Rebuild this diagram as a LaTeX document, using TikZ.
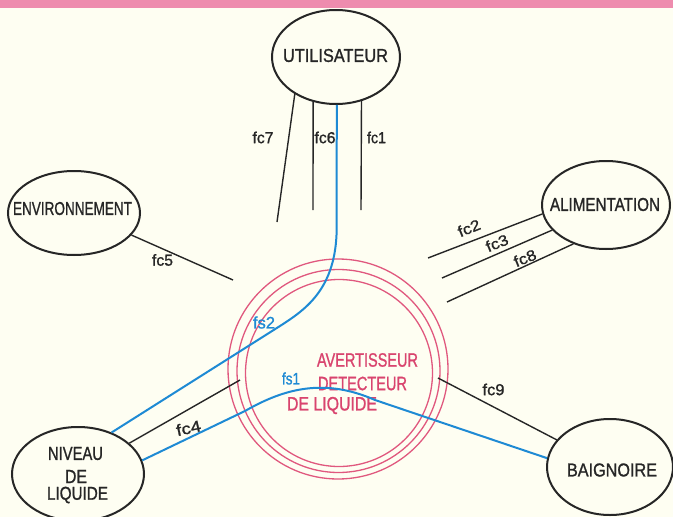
\documentclass[tikz,border=0pt]{standalone}
\usepackage{fontspec}
\setmainfont{Liberation Sans}[FakeBold=1.2]
\usetikzlibrary{shapes.geometric}
\definecolor{bgc}{HTML}{FEFEF2}
\definecolor{band}{HTML}{EE8CAE}
\definecolor{ring}{HTML}{E0587E}
\definecolor{ptext}{HTML}{D9446E}
\definecolor{fsblue}{HTML}{1E8AD4}
\definecolor{ink}{HTML}{262626}
\newcommand{\fitbox}[3]{\resizebox{#1pt}{#2pt}{#3}}
\begin{document}
\begin{tikzpicture}[x=1pt,y=-1pt,
  ell/.style={ellipse, draw=ink, line width=2pt, inner sep=0pt},
  lbl/.style={inner sep=0pt, text=ink},
  plbl/.style={inner sep=0pt, text=ptext},
  blbl/.style={inner sep=0pt, text=fsblue},
  conn/.style={draw=ink, line width=1.4pt},
  fsline/.style={draw=fsblue, line width=2pt},
  ringc/.style={draw=ring, line width=1.3pt},
]
\useasboundingbox (0,0) rectangle (673,517);
\fill[bgc] (0,0) rectangle (673,517);
\fill[band] (0,0) rectangle (673,8);

% central rings
\draw[ringc] (338,369) circle[radius=110];
\draw[ringc] (338.5,371) circle[radius=101.5];
\draw[ringc] (339,373) circle[radius=93.5];

% ellipses
\node[ell, minimum width=128pt, minimum height=94pt] (u) at (336,57) {};
\node[ell, minimum width=132pt, minimum height=84pt] (env) at (74,213) {};
\node[ell, minimum width=128pt, minimum height=88pt] (ali) at (606,205) {};
\node[ell, minimum width=132pt, minimum height=94pt] (niv) at (78,474) {};
\node[ell, minimum width=126pt, minimum height=96pt] (bai) at (610,467) {};

% ellipse texts
\node[lbl] (tu) at (335.5,55.5) {\fitbox{105}{13}{UTILISATEUR}};
\node[lbl] (tenv) at (72.5,208.5) {\fitbox{119}{13}{ENVIRONNEMENT}};
\node[lbl] (tali) at (605,204.5) {\fitbox{110}{13}{ALIMENTATION}};
\node[lbl] (tn1) at (75.5,453.5) {\fitbox{55}{13}{NIVEAU}};
\node[lbl] (tn2) at (76,476.5) {\fitbox{22}{13}{DE}};
\node[lbl] (tn3) at (77.5,495) {\fitbox{61}{13}{LIQUIDE}};
\node[lbl] (tbai) at (612,470) {\fitbox{90}{13}{BAIGNOIRE}};

% central texts
\node[plbl] (t1) at (367.5,360) {\fitbox{101}{13.5}{AVERTISSEUR}};
\node[plbl] (t2) at (362.5,383.5) {\fitbox{89}{13.5}{DETECTEUR}};
\node[plbl] (t3) at (332,405.5) {\fitbox{90}{13.5}{DE LIQUIDE}};

% free ends
\coordinate (e7) at (277,222);
\coordinate (e6) at (313,210);
\coordinate (e1) at (361,210);
\coordinate (e5) at (233,280);
\coordinate (e2) at (428,258);
\coordinate (e3) at (442,278);
\coordinate (e8) at (447,302);
\coordinate (e4) at (240,380);
\coordinate (e9) at (438,378);

% black connectors
\draw[conn] (u.-138.6) -- (e7);
\draw[conn] (u.-117.6) -- (e6);
\draw[conn] (u.-60) -- (e1);
\draw[conn] (env.-21.4) -- (e5);
\draw[conn] (ali.-172.6) -- (e2);
\draw[conn] (ali.-155.6) -- (e3);
\draw[conn] (ali.-130.2) -- (e8);
\draw[conn] (niv.31.6) -- (e4);
\draw[conn] (bai.153) -- (e9);

% blue connectors
\coordinate (b1) at (336.5,235);
\coordinate (b2) at (280,326);
\draw[fsline] (u.-89) -- (b1) .. controls (334,290) and (305,310) .. (b2) -- (niv.51);
\coordinate (c1) at (245,411);
\coordinate (c2) at (375,400);
\draw[fsline] (niv.12) -- (c1) .. controls (285,388) and (325,378) .. (c2) -- (bai.172);

% fc labels
\node[lbl] (l7) at (263,137.5) {\fitbox{21}{11.5}{fc7}};
\node[lbl] (l6) at (325,137.5) {\fitbox{21}{11.5}{fc6}};
\node[lbl] (l1) at (376.5,137.5) {\fitbox{19}{11.5}{fc1}};
\node[lbl] (l5) at (162.5,260) {\fitbox{21}{11.5}{fc5}};
\node[lbl, rotate=22] (l2) at (469,228) {\fitbox{23}{11}{fc2}};
\node[lbl, rotate=22] (l3) at (497,243) {\fitbox{23}{11}{fc3}};
\node[lbl, rotate=22] (l8) at (525,258) {\fitbox{23}{11}{fc8}};
\node[lbl, rotate=12] (l4) at (188.5,428) {\fitbox{25}{11.5}{fc4}};
\node[lbl] (l9) at (493.5,389.5) {\fitbox{22}{11.5}{fc9}};
\node[blbl] (s2) at (264,322.5) {\fitbox{22}{12}{fs2}};
\node[blbl] (s1) at (291,378.5) {\fitbox{18}{12}{fs1}};
\end{tikzpicture}
\end{document}
